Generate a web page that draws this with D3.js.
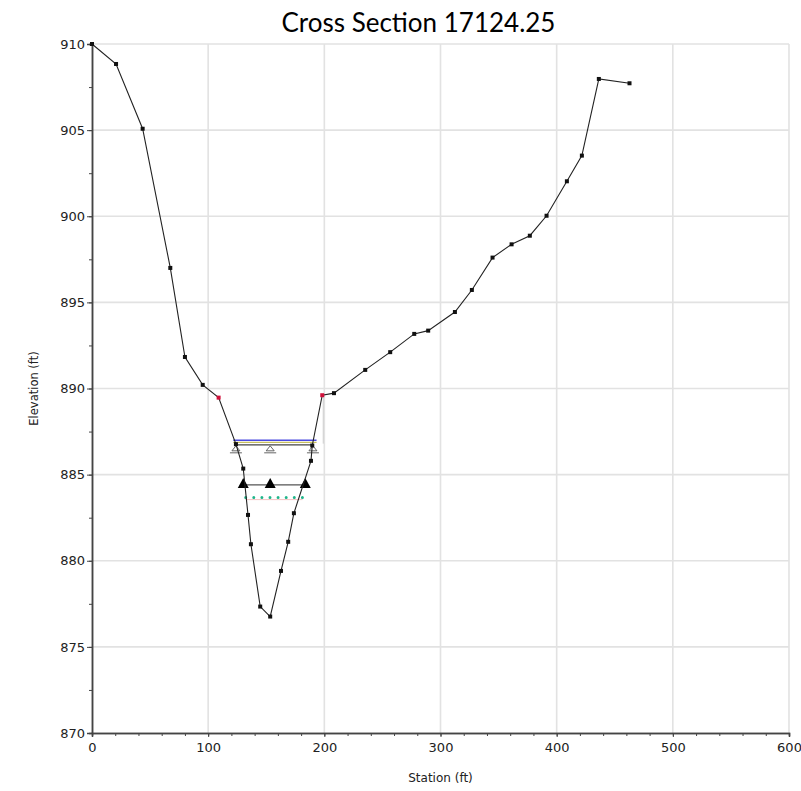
<!DOCTYPE html>
<html>
<head>
<meta charset="utf-8">
<script src="https://cdn.jsdelivr.net/npm/d3@7"></script>
<style>
  html, body { margin: 0; padding: 0; background: #fff; }
  svg { display: block; }
</style>
</head>
<body>
<script>
// Ground profile of the cross section (station ft, elevation ft)
const stations = [0, 20.7, 43.6, 67.4, 80.0, 95.3, 109.0, 123.9, 130.2, 134.3, 136.8, 144.8,
  153.4, 162.7, 168.9, 173.8, 188.5, 189.6, 198.2, 208.3, 235.2, 256.7, 277.4, 289.4,
  312.4, 327.0, 344.8, 361.2, 376.9, 391.3, 408.8, 421.7, 436.3, 462.7];
const elevations = [910.0, 908.84, 905.08, 897.0, 891.83, 890.21, 889.47, 886.77, 885.35, 882.66,
  880.96, 877.34, 876.76, 879.41, 881.10, 882.76, 885.80, 886.69, 889.61, 889.73, 891.08,
  892.11, 893.17, 893.36, 894.44, 895.72, 897.60, 898.37, 898.87, 900.03, 902.03, 903.52,
  907.97, 907.72];

// Main channel bank stations
const bankStations = [109.0, 198.2];

// Computed surfaces across the channel: [left station, right station, elevation]
const energyGrade = [121.6, 193.3, 887.00];
const upperProfile = [121.6, 193.3, 886.87];
const waterSurface = [123.9, 190.2, 886.73];
const waterMarks = [123.9, 153.4, 190.2];
const lowWaterSurface = [130.2, 183.6, 884.40];
const lowWaterMarks = [130.2, 153.4, 183.6];
const criticalDepth = [132.3, 181.3, 883.67];

// Axis ticks
const xTicks = [0, 100, 200, 300, 400, 500, 600];
const yTicks = [870, 875, 880, 885, 890, 895, 900, 905, 910];

const W = 801, H = 791;
const m = { left: 92, right: 12, top: 44, bottom: 58 };
const labelFont = "'DejaVu Sans', Verdana, sans-serif";

const svg = d3.select("body").append("svg").attr("width", W).attr("height", H);

const x = d3.scaleLinear().domain([0, 600]).range([m.left, W - m.right]);
const y = d3.scaleLinear().domain([870, 910]).range([H - m.bottom, m.top]);

// Title
svg.append("text")
  .attr("x", 418.5).attr("y", 32)
  .attr("text-anchor", "middle")
  .attr("font-family", "Lato, 'Open Sans', sans-serif")
  .attr("font-size", 26)
  .attr("fill", "#000")
  .text("Cross Section 17124.25");

// Grid
const grid = svg.append("g").attr("stroke", "#e2e2e2").attr("stroke-width", 1.6);
grid.selectAll("line.v").data(xTicks.slice(1)).join("line")
  .attr("x1", d => x(d)).attr("x2", d => x(d))
  .attr("y1", y(870)).attr("y2", y(910));
grid.selectAll("line.h").data(yTicks.slice(1)).join("line")
  .attr("x1", x(0)).attr("x2", x(600))
  .attr("y1", d => y(d)).attr("y2", d => y(d));

// Axes
const xAxis = d3.axisBottom(x).tickValues(xTicks).tickFormat(d3.format("d")).tickSize(4).tickPadding(6);
const xMinor = d3.axisBottom(x).tickValues(d3.range(0, 601, 20)).tickFormat("").tickSize(3);
const yAxis = d3.axisLeft(y).tickValues(yTicks).tickFormat(d3.format("d")).tickSize(5).tickPadding(2);
const yMinor = d3.axisLeft(y).tickValues(d3.range(870, 910.1, 2.5)).tickFormat("").tickSize(3);

function styleAxis(g) {
  g.select(".domain").attr("stroke", "#444").attr("stroke-width", 1.5);
  g.selectAll(".tick line").attr("stroke", "#444");
  g.selectAll("text")
    .attr("font-family", labelFont)
    .attr("font-size", 13)
    .attr("fill", "#222");
}

svg.append("g").attr("transform", `translate(0,${y(870)})`).call(xMinor).call(styleAxis);
svg.append("g").attr("transform", `translate(0,${y(870)})`).call(xAxis).call(styleAxis);
svg.append("g").attr("transform", `translate(${x(0)},0)`).call(yMinor).call(styleAxis);
svg.append("g").attr("transform", `translate(${x(0)},0)`).call(yAxis).call(styleAxis);

// Axis titles
svg.append("text")
  .attr("x", (x(0) + x(600)) / 2).attr("y", 782)
  .attr("text-anchor", "middle")
  .attr("font-family", labelFont)
  .attr("font-size", 12).attr("fill", "#222")
  .text("Station (ft)");
svg.append("text")
  .attr("transform", `translate(38,${(y(870) + y(910)) / 2}) rotate(-90)`)
  .attr("text-anchor", "middle")
  .attr("font-family", labelFont)
  .attr("font-size", 11.5).attr("fill", "#222")
  .text("Elevation (ft)");

const plot = svg.append("g");

// Faint bank marker below the right bank
plot.append("line")
  .attr("x1", x(bankStations[1]) + 1).attr("x2", x(bankStations[1]) + 1)
  .attr("y1", y(889.6)).attr("y2", y(886.8))
  .attr("stroke", "#ccc").attr("stroke-width", 1);

// Surfaces
function hline(s, color, width, dash) {
  const l = plot.append("line")
    .attr("x1", x(s[0])).attr("x2", x(s[1]))
    .attr("y1", y(s[2])).attr("y2", y(s[2]))
    .attr("stroke", color).attr("stroke-width", width);
  if (dash) l.attr("stroke-dasharray", dash).attr("stroke-linecap", "round");
  return l;
}

hline(upperProfile, "#c8c060", 1.3);
hline(energyGrade, "#4a4ae0", 1.5);
hline(waterSurface, "#444", 1.1);

// Open markers hanging under the upper water surface
const yWs = y(waterSurface[2]);
plot.selectAll("g.wsmark").data(waterMarks).join("g")
  .attr("transform", d => `translate(${x(d)},${yWs})`)
  .each(function () {
    const g = d3.select(this);
    g.append("path").attr("d", "M0,1 L-4,6 L4,6 Z")
      .attr("fill", "#fff").attr("stroke", "#555").attr("stroke-width", 0.9);
    g.append("line").attr("x1", -6).attr("x2", 6).attr("y1", 8).attr("y2", 8)
      .attr("stroke", "#555").attr("stroke-width", 0.9);
  });

// Lower water surface with filled markers
hline(lowWaterSurface, "#555", 1.2);
const yLow = y(lowWaterSurface[2]);
plot.selectAll("path.lowmark").data(lowWaterMarks).join("path")
  .attr("d", d => `M${x(d)},${yLow - 7} L${x(d) - 5.5},${yLow + 3} L${x(d) + 5.5},${yLow + 3} Z`)
  .attr("fill", "#000");

// Critical depth dotted line
hline([criticalDepth[0], criticalDepth[1], criticalDepth[2] - 0.12], "#f3c2c2", 1);
hline(criticalDepth, "#1fb58a", 3, "0 8.1");

// Ground line
const line = d3.line().x((d, i) => x(stations[i])).y(d => y(d));
plot.append("path")
  .attr("d", line(elevations))
  .attr("fill", "none").attr("stroke", "#222").attr("stroke-width", 1.1);

// Ground points
plot.selectAll("rect.pt").data(elevations).join("rect")
  .attr("x", (d, i) => x(stations[i]) - 2)
  .attr("y", d => y(d) - 2)
  .attr("width", 4).attr("height", 4)
  .attr("fill", (d, i) => bankStations.includes(stations[i]) ? "#d0103a" : "#111");
</script>
</body>
</html>
